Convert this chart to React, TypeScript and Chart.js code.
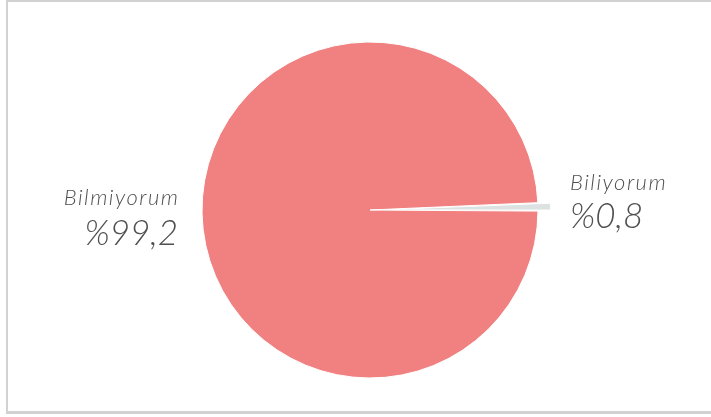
import React, { useEffect, useRef } from "react";
import { Chart, registerables } from "chart.js";

Chart.register(...registerables);

const categories = ["Biliyorum", "Bilmiyorum"];
const values = [0.8, 99.2];
const valueLabels = ["%0,8", "%99,2"];
const colors = ["#dce1e1", "#f18080"];
const offsets = [26, 0];

const labelPlugin = {
  id: "sideLabels",
  afterDraw(chart: any) {
    const meta = chart.getDatasetMeta(0);
    const arc = meta.data[1];
    if (!arc) return;
    const { x, y, outerRadius } = arc.getProps(["x", "y", "outerRadius"], true);
    const ctx = chart.ctx;
    ctx.save();
    ctx.fillStyle = "#505050";
    ctx.textBaseline = "alphabetic";
    // left label (Bilmiyorum)
    ctx.textAlign = "right";
    const lx = x - outerRadius - 24;
    ctx.font = "italic 300 22px Lato";
    (ctx as any).letterSpacing = "1.5px";
    ctx.fillText(categories[1], lx + 1.5, y - 5);
    (ctx as any).letterSpacing = "0px";
    ctx.font = "italic 300 35px Lato";
    ctx.fillText(valueLabels[1], lx, y + 35);
    // right label (Biliyorum)
    ctx.textAlign = "left";
    const rx = x + outerRadius + 32;
    ctx.font = "italic 300 22px Lato";
    (ctx as any).letterSpacing = "1.5px";
    ctx.fillText(categories[0], rx, y - 20);
    (ctx as any).letterSpacing = "0px";
    ctx.font = "italic 300 35px Lato";
    ctx.fillText(valueLabels[0], rx, y + 18);
    ctx.restore();
  },
};

export default function App() {
  const ref = useRef<HTMLCanvasElement>(null);
  useEffect(() => {
    document.body.style.margin = "0";
    const chart = new Chart(ref.current!, {
      type: "pie",
      data: {
        labels: categories,
        datasets: [
          {
            data: values,
            backgroundColor: colors,
            borderColor: "#ffffff",
            borderWidth: 1,
            offset: offsets,
          },
        ],
      },
      options: {
        responsive: false,
        animation: false,
        rotation: 87.5,
        radius: 168,
        layout: { padding: { left: 202, right: 173, top: 42, bottom: 39 } },
        plugins: { legend: { display: false }, tooltip: { enabled: false } },
      },
      plugins: [labelPlugin],
    });
    return () => chart.destroy();
  }, []);
  return (
    <div style={{ position: "relative", width: 711, height: 417, background: "#fff" }}>
      <div
        style={{
          position: "absolute",
          left: 6,
          top: 0,
          width: 705,
          height: 414,
          borderLeft: "2px solid #d2d2d2",
          borderTop: "2px solid #d2d2d2",
          borderBottom: "3px solid #d2d2d2",
          boxSizing: "border-box",
        }}
      />
      <canvas ref={ref} width={711} height={417} style={{ position: "absolute", left: 0, top: 0 }} />
    </div>
  );
}
